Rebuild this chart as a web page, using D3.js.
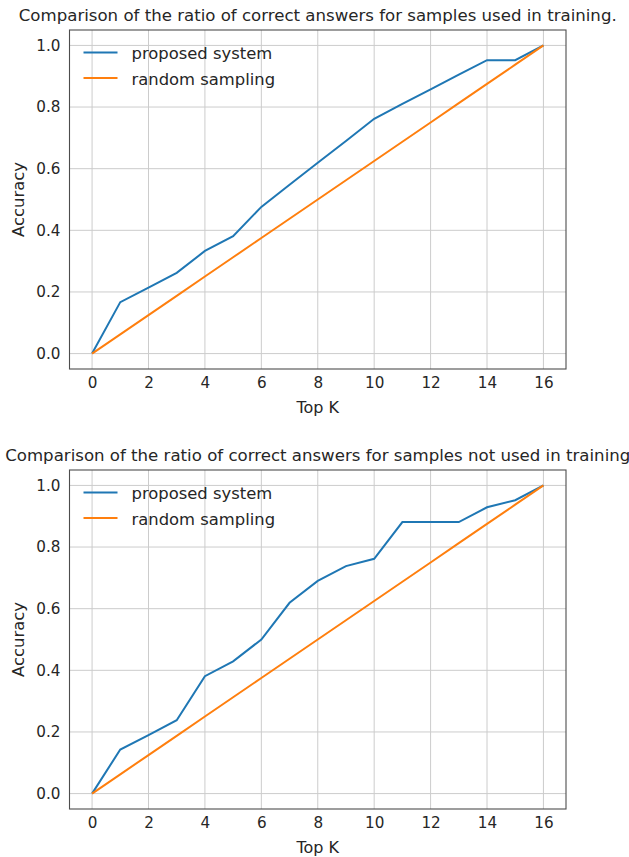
<!DOCTYPE html>
<html>
<head>
<meta charset="utf-8">
<script src="https://cdn.jsdelivr.net/npm/d3@7"></script>
<style>
  body { margin: 0; background: #fff; }
  text { font-family: "DejaVu Sans", sans-serif; fill: #262626; }
</style>
</head>
<body>
<svg width="629" height="857"></svg>
<script>
var topK = [0, 1, 2, 3, 4, 5, 6, 7, 8, 9, 10, 11, 12, 13, 14, 15, 16];
var proposedUsed = [0, 0.167, 0.214, 0.262, 0.333, 0.381, 0.476, 0.548, 0.619, 0.690, 0.762, 0.810, 0.857, 0.905, 0.952, 0.952, 1.0];
var proposedNotUsed = [0, 0.143, 0.190, 0.238, 0.381, 0.429, 0.500, 0.619, 0.690, 0.738, 0.762, 0.881, 0.881, 0.881, 0.929, 0.952, 1.0];
var randomSampling = [0, 0.0625, 0.125, 0.1875, 0.25, 0.3125, 0.375, 0.4375, 0.5, 0.5625, 0.625, 0.6875, 0.75, 0.8125, 0.875, 0.9375, 1.0];
var xTicks = [0, 2, 4, 6, 8, 10, 12, 14, 16];
var yTicks = [0, 0.2, 0.4, 0.6, 0.8, 1.0];
var seriesNames = ["proposed system", "random sampling"];
var colors = ["#1f77b4", "#ff7f0e"];

var svg = d3.select("svg");

function drawPanel(top, title, proposed) {
    var left = 69.5, right = 566, bottom = top + 339;
    var x = d3.scaleLinear().domain([-0.8, 16.8]).range([left, right]);
    var y = d3.scaleLinear().domain([-0.05, 1.05]).range([bottom, top]);
    var g = svg.append("g");

    // grid
    g.selectAll(".vgrid").data(xTicks).enter().append("line")
        .attr("x1", d => x(d)).attr("x2", d => x(d))
        .attr("y1", top).attr("y2", bottom)
        .attr("stroke", "#cccccc").attr("stroke-width", 1);
    g.selectAll(".hgrid").data(yTicks).enter().append("line")
        .attr("x1", left).attr("x2", right)
        .attr("y1", d => y(d)).attr("y2", d => y(d))
        .attr("stroke", "#cccccc").attr("stroke-width", 1);

    // axes without tick marks
    var xAxis = g.append("g").attr("transform", "translate(0," + bottom + ")")
        .call(d3.axisBottom(x).tickValues(xTicks).tickSize(0).tickPadding(8).tickFormat(d3.format("d")));
    var yAxis = g.append("g").attr("transform", "translate(" + left + ",0)")
        .call(d3.axisLeft(y).tickValues(yTicks).tickSize(0).tickPadding(9).tickFormat(d3.format(".1f")));
    [xAxis, yAxis].forEach(a => {
        a.select(".domain").remove();
        a.selectAll("text").style("font-family", "DejaVu Sans").style("font-size", "15.2px").attr("fill", "#262626");
    });

    g.append("rect").attr("x", left).attr("y", top).attr("width", right - left).attr("height", bottom - top)
        .attr("fill", "none").attr("stroke", "#4d4d4d").attr("stroke-width", 1.1);

    var line = d3.line().x((d, i) => x(topK[i])).y(d => y(d));
    [proposed, randomSampling].forEach((s, i) => {
        g.append("path").datum(s).attr("d", line)
            .attr("fill", "none").attr("stroke", colors[i]).attr("stroke-width", 2);
    });

    // legend
    seriesNames.forEach((n, i) => {
        var ly = top + 22.5 + i * 25.5;
        g.append("line").attr("x1", 83.5).attr("x2", 117.5).attr("y1", ly).attr("y2", ly)
            .attr("stroke", colors[i]).attr("stroke-width", 2);
        g.append("text").attr("x", 131.5).attr("y", ly + 6.5).attr("font-size", "16.4px").text(n);
    });

    g.append("text").attr("x", (left + right) / 2).attr("y", top - 9)
        .attr("text-anchor", "middle").attr("font-size", "16.6px").text(title);
    g.append("text").attr("x", (left + right) / 2).attr("y", bottom + 44)
        .attr("text-anchor", "middle").attr("font-size", "16px").text("Top K");
    g.append("text").attr("transform", "translate(24," + ((top + bottom) / 2) + ") rotate(-90)")
        .attr("text-anchor", "middle").attr("font-size", "16.4px").text("Accuracy");
}

drawPanel(30, "Comparison of the ratio of correct answers for samples used in training.", proposedUsed);
drawPanel(470, "Comparison of the ratio of correct answers for samples not used in training", proposedNotUsed);
</script>
</body>
</html>
